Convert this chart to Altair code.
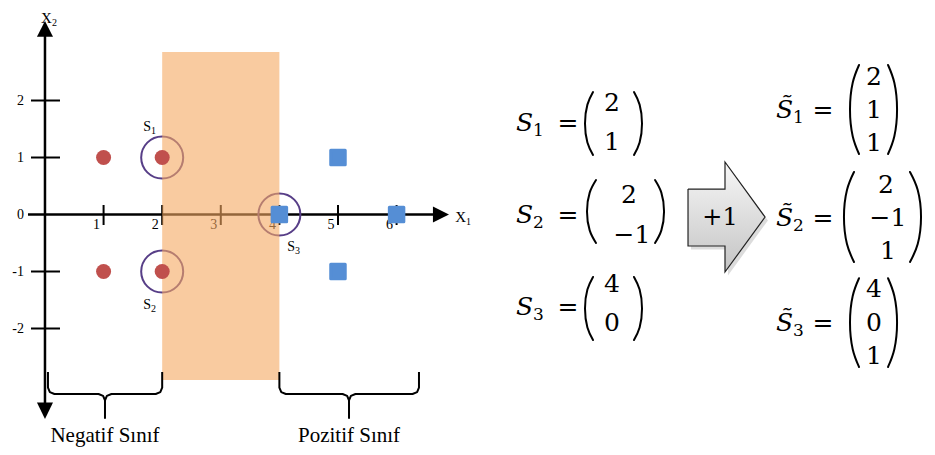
import altair as alt
import pandas as pd

# ---------------- data ----------------
neg_x = [1, 2, 1, 2]
neg_y = [1, 1, -1, -1]
pos_x = [4, 5, 5, 6]
pos_y = [0, 1, -1, 0]
sv_x = [2, 2, 4]
sv_y = [1, -1, 0]
sv_sub = ["1", "2", "3"]
x_ticks = [1, 2, 3, 4, 5, 6]
y_ticks = [-2, -1, 0, 1, 2]
band_x = [2, 4]
class_names = ["Negatif Sınıf", "Pozitif Sınıf"]
axis_subs = ["1", "2"]
augment = 1
arrow_label = "+1"

# ---------------- layout (in the chart's own x / y units) ----------------
X_DOM = [-0.631, 15.051]
Y_DOM = [-4.079, 3.623]
W, H = 919, 439
SERIF = "Liberation Serif, Times New Roman, serif"
MATH = "DejaVu Serif, serif"
BLACK = "#000000"

xs = alt.Scale(domain=X_DOM, nice=False, zero=False)
ys = alt.Scale(domain=Y_DOM, nice=False, zero=False)


def ex(f="x"):
    return alt.X(f"{f}:Q", scale=xs, axis=None)


def ey(f="y"):
    return alt.Y(f"{f}:Q", scale=ys, axis=None)


def fmt(v):
    return str(v) if v >= 0 else "\u2212" + str(-v)


layers = []

# axis lines
axes_df = pd.DataFrame({"x": [-0.29, 0.0], "x2": [6.63, 0.0],
                        "y": [0.0, -3.31], "y2": [0.0, 3.13]})
layers.append(alt.Chart(axes_df).mark_rule(color=BLACK, strokeWidth=2.5).encode(
    x=ex(), x2="x2:Q", y=ey(), y2="y2:Q"))

# arrow heads
ax_df = pd.DataFrame({"x": [6.62, 6.894], "y": [0.14, 0.0], "y2": [-0.14, 0.0]})
layers.append(alt.Chart(ax_df).mark_area(color=BLACK, orient="vertical", opacity=1).encode(
    x=ex(), y=ey(), y2="y2:Q"))
ay_df = pd.DataFrame({"y": [3.12, 3.395, -3.588, -3.30], "x": [-0.137, 0.0, 0.0, -0.137],
                      "x2": [0.137, 0.0, 0.0, 0.137], "k": ["t", "t", "b", "b"]})
layers.append(alt.Chart(ay_df).mark_area(color=BLACK, orient="horizontal", opacity=1).encode(
    y=ey(), x=ex(), x2="x2:Q", detail="k:N"))

# tick marks
xt_df = pd.DataFrame({"x": x_ticks})
xt_df["y"] = 0.167
xt_df["y2"] = -0.184
layers.append(alt.Chart(xt_df).mark_rule(color=BLACK, strokeWidth=2).encode(
    x=ex(), y=ey(), y2="y2:Q"))
yt_df = pd.DataFrame({"y": [t for t in y_ticks if t != 0]})
yt_df["x"] = -0.239
yt_df["x2"] = 0.256
layers.append(alt.Chart(yt_df).mark_rule(color=BLACK, strokeWidth=2).encode(
    y=ey(), x=ex(), x2="x2:Q"))

# tick labels
xl_df = pd.DataFrame({"x": x_ticks, "t": [str(v) for v in x_ticks]})
xl_df["y"] = 0.0
layers.append(alt.Chart(xl_df).mark_text(font=SERIF, fontSize=14, dx=-7, dy=10,
                                         baseline="middle", align="center", color=BLACK).encode(
    x=ex(), y=ey(), text="t:N"))
yl_df = pd.DataFrame({"y": y_ticks, "t": [str(v) for v in y_ticks]})
yl_df["x"] = 0.0
layers.append(alt.Chart(yl_df).mark_text(font=SERIF, fontSize=14, dx=-21,
                                         baseline="middle", align="right", color=BLACK).encode(
    x=ex(), y=ey(), text="t:N"))

# axis names X1, X2
an_df = pd.DataFrame({"x": [7.184, 0.119], "y": [-0.044, 3.445], "s": axis_subs})
an_df["t"] = "X"
layers.append(alt.Chart(an_df).mark_text(font=SERIF, fontSize=15, align="right",
                                         baseline="middle", color=BLACK).encode(
    x=ex(), y=ey(), text="t:N"))
layers.append(alt.Chart(an_df).mark_text(font=SERIF, fontSize=10, align="left", dy=5,
                                         baseline="middle", color=BLACK).encode(
    x=ex(), y=ey(), text="s:N"))

# support-vector rings
sv_df = pd.DataFrame({"x": sv_x, "y": sv_y, "s": sv_sub})
layers.append(alt.Chart(sv_df).mark_point(shape="circle", filled=False, size=1764,
                                          strokeWidth=2, color="#573E87", opacity=1).encode(
    x=ex(), y=ey()))

# margin band
band_df = pd.DataFrame({"x": [band_x[0]], "x2": [band_x[1]], "y": [2.851], "y2": [-2.904]})
layers.append(alt.Chart(band_df).mark_rect(color="#F5A861", opacity=0.6).encode(
    x=ex(), x2="x2:Q", y=ey(), y2="y2:Q"))

# points
neg_df = pd.DataFrame({"x": neg_x, "y": neg_y})
layers.append(alt.Chart(neg_df).mark_circle(size=225, color="#C0504D", opacity=1).encode(
    x=ex(), y=ey()))
pos_df = pd.DataFrame({"x": pos_x, "y": pos_y})
layers.append(alt.Chart(pos_df).mark_square(size=210, color="#558ED5", opacity=1,
                                            stroke="#558ED5", strokeWidth=3,
                                            strokeJoin="round").encode(x=ex(), y=ey()))

# support-vector labels S1, S2, S3
svl_df = pd.DataFrame({"x": [1.809, 1.809, 4.266], "y": [1.535, -1.588, -0.570], "s": sv_sub})
svl_df["t"] = "S"
layers.append(alt.Chart(svl_df).mark_text(font=SERIF, fontSize=14, align="right",
                                          baseline="middle", color=BLACK).encode(
    x=ex(), y=ey(), text="t:N"))
layers.append(alt.Chart(svl_df).mark_text(font=SERIF, fontSize=10, align="left", dy=4,
                                          baseline="middle", color=BLACK).encode(
    x=ex(), y=ey(), text="s:N"))


# braces
def brace(xl, xr, xc, key):
    yt, yb, ytip = -2.763, -3.149, -3.570
    rx, ry = 0.11, 0.11
    k = 0.293
    pts = [(xl, yt), (xl, yb + ry), (xl + k * rx, yb + k * ry), (xl + rx, yb),
           (xc - rx, yb), (xc - k * rx, yb - k * ry), (xc, yb - ry), (xc, ytip),
           (xc, yb - ry), (xc + k * rx, yb - k * ry), (xc + rx, yb),
           (xr - rx, yb), (xr - k * rx, yb + k * ry), (xr, yb + ry), (xr, yt)]
    return [dict(x=p[0], y=p[1], o=i, k=key) for i, p in enumerate(pts)]


br_df = pd.DataFrame(brace(0.051, band_x[0], 1.024, "neg") + brace(band_x[1], 6.382, 5.188, "pos"))
layers.append(alt.Chart(br_df).mark_line(color=BLACK, strokeWidth=2, strokeJoin="round").encode(
    x=ex(), y=ey(), detail="k:N", order="o:Q"))

cl_df = pd.DataFrame({"x": [1.024, 5.188], "y": [-3.886, -3.886], "t": class_names})
layers.append(alt.Chart(cl_df).mark_text(font=SERIF, fontSize=21, align="center",
                                         baseline="middle", color=BLACK).encode(
    x=ex(), y=ey(), text="t:N"))

# ---------------- vectors on the right ----------------
lab_y_left = [1.605, -0.009, -1.623]
lab_y_right = [1.833, -0.061, -1.904]
row_y_left = [[1.956, 1.272], [0.342, -0.360], [-1.219, -1.904]]
dig_x_left = [[9.676, 9.676], [9.966, 10.017], [9.676, 9.676]]
row_y_right = [[2.412, 1.833, 1.254], [0.518, -0.061, -0.640], [-1.307, -1.904, -2.482]]
dig_x_right = [[14.147, 14.147, 14.147], [14.352, 14.386, 14.386], [14.147, 14.147, 14.147]]
paren_left = [(9.352, -0.137, 10.051, 0.137, 2.149, 1.044),
              (9.403, -0.154, 10.410, 0.154, 0.605, -0.500),
              (9.352, -0.137, 10.051, 0.137, -1.096, -2.202)]
paren_right = [(13.891, -0.154, 14.386, 0.154, 2.623, 1.061),
               (13.805, -0.171, 14.761, 0.188, 0.746, -0.833),
               (13.891, -0.154, 14.386, 0.154, -1.118, -2.675)]

dig_rows, lab_rows, par_rows = [], [], []
for i, (vx, vy) in enumerate(zip(sv_x, sv_y)):
    for j, v in enumerate([vx, vy]):
        dig_rows.append(dict(x=dig_x_left[i][j], y=row_y_left[i][j], t=fmt(v)))
    for j, v in enumerate([vx, vy, augment]):
        dig_rows.append(dict(x=dig_x_right[i][j], y=row_y_right[i][j], t=fmt(v)))
    lab_rows.append(dict(x=8.328, y=lab_y_left[i], t="S", s=sv_sub[i], ex=8.925))
    lab_rows.append(dict(x=12.765, y=lab_y_right[i], t="S\u0303", s=sv_sub[i], ex=13.276))
    for side, spec in (("L", paren_left[i]), ("R", paren_right[i])):
        xa, ba, xb, bb, yt, yb = spec
        ym = (yt + yb) / 2
        h = yt - yb
        for pk, (xe, b) in enumerate(((xa, ba), (xb, bb))):
            pts = [(xe, yt), (xe + 0.7 * b, yt - 0.2 * h), (xe + b, ym),
                   (xe + 0.7 * b, yb + 0.2 * h), (xe, yb)]
            for o, (px, py) in enumerate(pts):
                par_rows.append(dict(x=px, y=py, o=o, k=f"{side}{i}{pk}"))

dig_df = pd.DataFrame(dig_rows)
lab_df = pd.DataFrame(lab_rows)
lab_df["eq"] = "="
par_df = pd.DataFrame(par_rows)

layers.append(alt.Chart(dig_df).mark_text(font=MATH, fontSize=25, align="center",
                                          baseline="middle", color=BLACK).encode(
    x=ex(), y=ey(), text="t:N"))
layers.append(alt.Chart(lab_df).mark_text(font=MATH, fontSize=25, fontStyle="italic",
                                          align="right", baseline="middle", color=BLACK).encode(
    x=ex(), y=ey(), text="t:N"))
layers.append(alt.Chart(lab_df).mark_text(font=MATH, fontSize=17, align="left", dy=8,
                                          baseline="middle", color=BLACK).encode(
    x=ex(), y=ey(), text="s:N"))
layers.append(alt.Chart(lab_df).mark_text(font=MATH, fontSize=25, align="center",
                                          baseline="middle", color=BLACK).encode(
    x=ex("ex"), y=ey(), text="eq:N"))
layers.append(alt.Chart(par_df).mark_line(color=BLACK, strokeWidth=2, interpolate="natural",
                                          strokeCap="round").encode(
    x=ex(), y=ey(), detail="k:N", order="o:Q"))

# block arrow "+1"
arr_fill = pd.DataFrame({"x": [10.973, 11.604, 11.6045, 12.287],
                         "y": [0.447, 0.447, 0.921, -0.044],
                         "y2": [-0.553, -0.553, -1.009, -0.044]})
arr_shadow = arr_fill.copy()
arr_shadow["x"] = arr_shadow["x"] + 0.05
arr_shadow["y"] = arr_shadow["y"] - 0.06
arr_shadow["y2"] = arr_shadow["y2"] - 0.06
layers.append(alt.Chart(arr_shadow).mark_area(color="#9A9A9A", opacity=0.35,
                                              orient="vertical").encode(
    x=ex(), y=ey(), y2="y2:Q"))
grad = alt.Gradient(gradient="linear",
                    stops=[alt.GradientStop(color="#F7F7F7", offset=0),
                           alt.GradientStop(color="#C4C4C4", offset=1)],
                    x1=0, x2=0, y1=0, y2=1)
layers.append(alt.Chart(arr_fill).mark_area(color=grad, opacity=1, orient="vertical").encode(
    x=ex(), y=ey(), y2="y2:Q"))
arr_line = pd.DataFrame({"x": [10.973, 11.604, 11.604, 12.287, 11.604, 11.604, 10.973, 10.973],
                         "y": [0.447, 0.447, 0.921, -0.044, -1.009, -0.553, -0.553, 0.447]})
arr_line["o"] = range(len(arr_line))
layers.append(alt.Chart(arr_line).mark_line(color="#222222", strokeWidth=1.2,
                                            strokeJoin="miter").encode(
    x=ex(), y=ey(), order="o:Q"))
arr_txt = pd.DataFrame({"x": [11.519], "y": [-0.061], "t": [arrow_label]})
layers.append(alt.Chart(arr_txt).mark_text(font=MATH, fontSize=24, align="center",
                                           baseline="middle", color=BLACK).encode(
    x=ex(), y=ey(), text="t:N"))

chart = alt.layer(*layers).properties(
    width=W, height=H, padding=0,
    autosize=alt.AutoSizeParams(type="none"),
    background="white",
).configure_view(stroke=None)

chart.save("out.html", embed_options={"renderer": "svg", "actions": False})
